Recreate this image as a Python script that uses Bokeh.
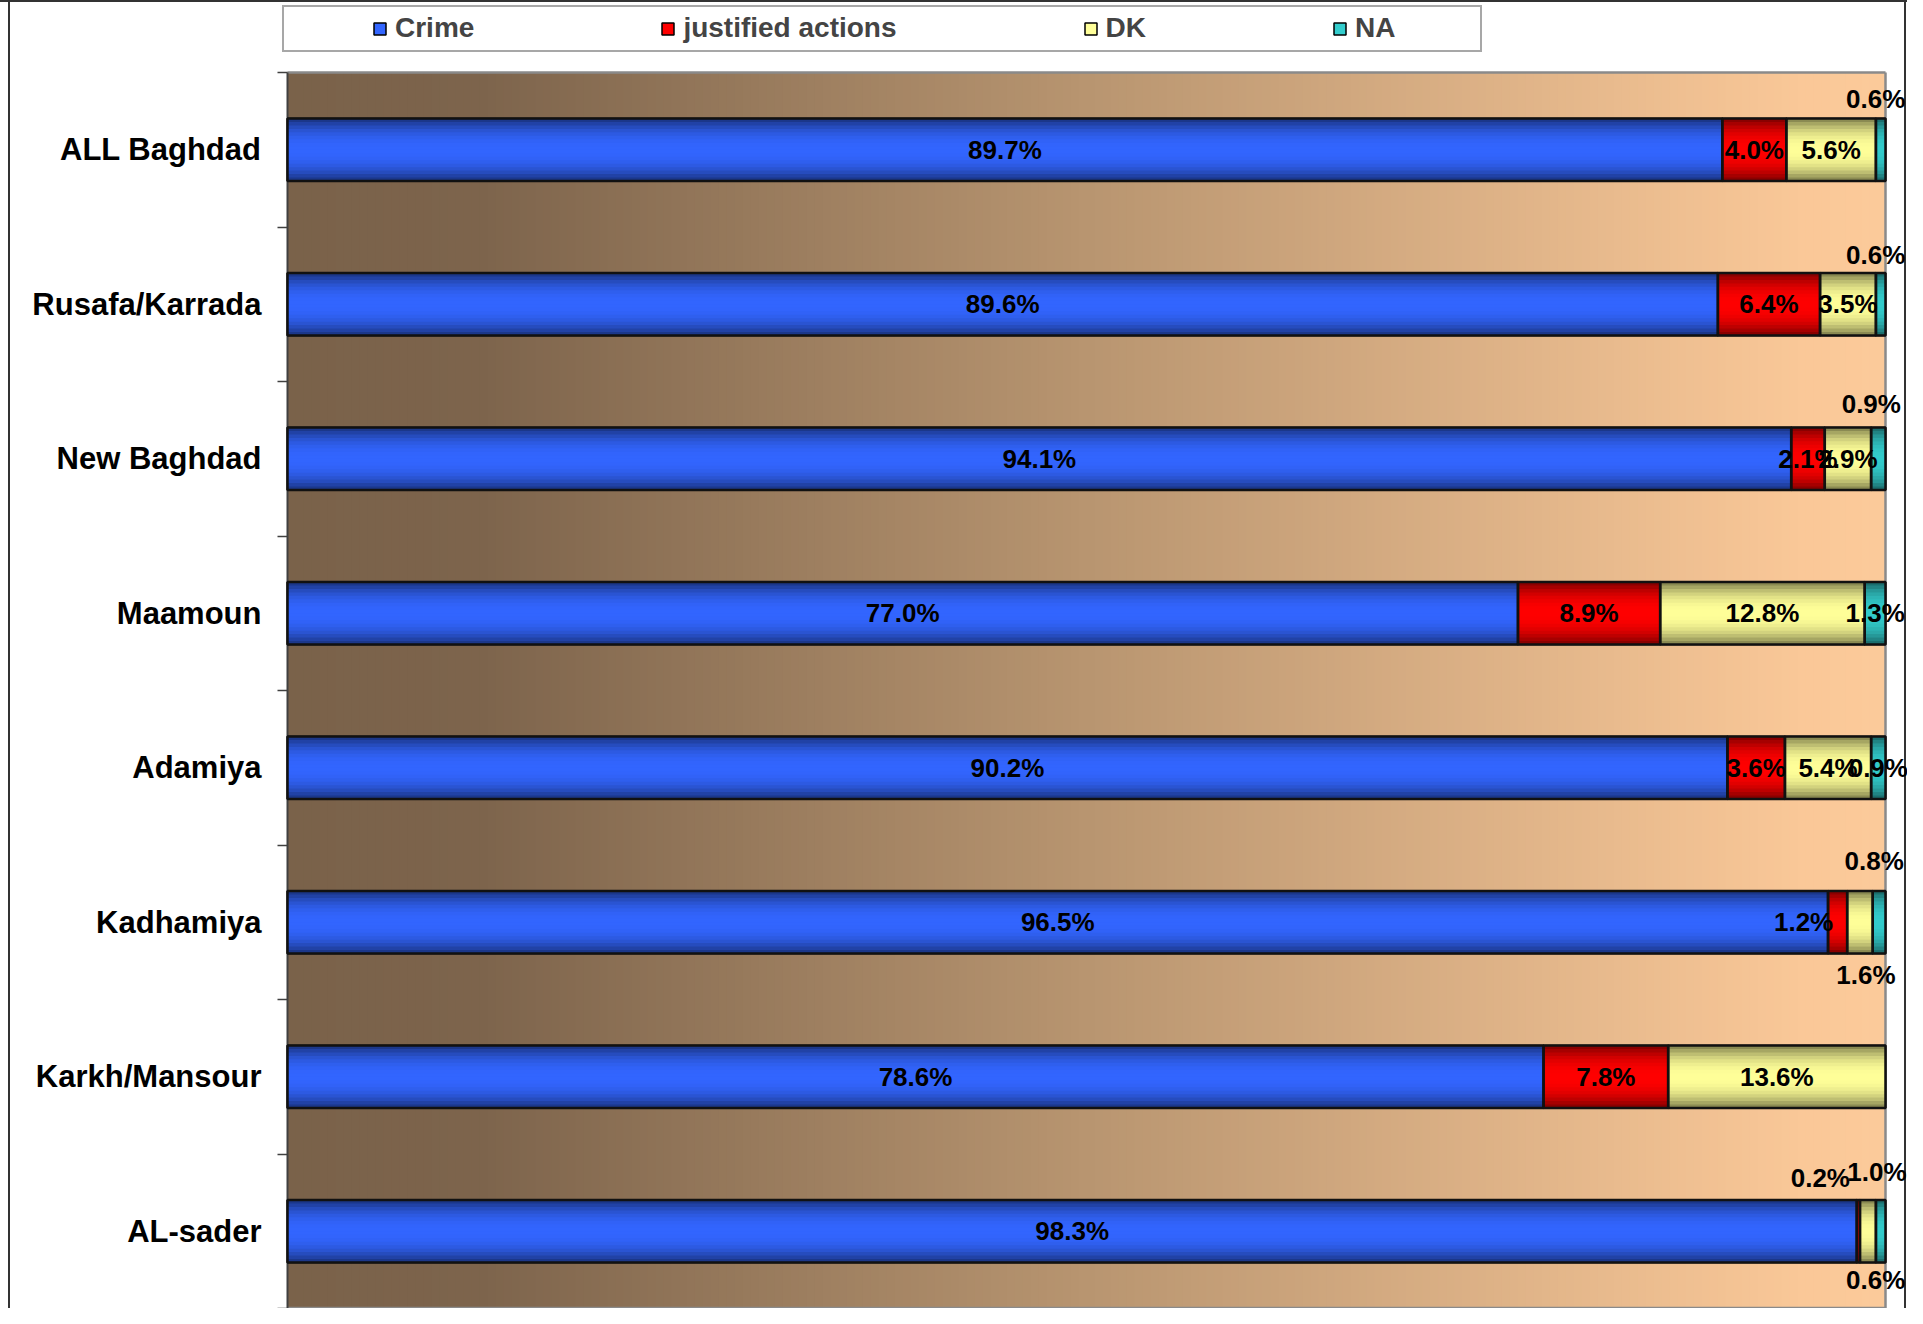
import numpy as np
from bokeh.plotting import figure
from bokeh.models import (ColumnDataSource, Range1d, FixedTicker, Legend, LegendItem)
from bokeh.core.properties import value
from bokeh.embed import file_html
from bokeh.resources import INLINE

# ---------------- data ----------------
categories = ["ALL Baghdad", "Rusafa/Karrada", "New Baghdad", "Maamoun",
              "Adamiya", "Kadhamiya", "Karkh/Mansour", "AL-sader"]
series = ["Crime", "justified actions", "DK", "NA"]
crime = [89.7, 89.6, 94.1, 77.0, 90.2, 96.5, 78.6, 98.3]
justified = [4.0, 6.4, 2.1, 8.9, 3.6, 1.2, 7.8, 0.2]
dk = [5.6, 3.5, 2.9, 12.8, 5.4, 1.6, 13.6, 1.0]
na = [0.6, 0.6, 0.9, 1.3, 0.9, 0.8, 0.0, 0.6]

# ---------------- styling ----------------
colors = ["#3366FF", "#FF0000", "#FFFF99", "#33CCCC"]
FONT = "Liberation Sans"
# pixel nudges for labels of crowded small segments: (row, series) -> (dx, dy)
label_nudge = {(0, 3): (-5, -51), (1, 3): (-5, -49), (2, 3): (-7, -55),
               (5, 1): (-34, 0), (5, 2): (6, 53), (5, 3): (-5, -61),
               (7, 1): (-38, -53), (7, 2): (9, -59), (7, 3): (-5, 49)}

values = [crime, justified, dk, na]
n = len(categories)
bar_h = 0.405

# plot area spans x 0..100 and y 0..n; the frame also holds the room for the
# legend above and the overhanging labels on the right
W, H = 1907, 1308
area_l, area_r, area_t, area_b = 287, 1885, 72, 1308
frame_l = 281
pxu = (area_r - area_l) / 100.0
band = (area_b - area_t) / n
x0 = -(area_l - frame_l) / pxu
x1 = 100 + (W - area_r) / pxu
y1 = n + area_t / band

p = figure(width=W, height=H, x_range=Range1d(x0, x1), y_range=Range1d(0, y1),
           output_backend="svg", toolbar_location=None, x_axis_location=None,
           min_border_left=frame_l, min_border_right=0, min_border_top=0,
           min_border_bottom=0, border_fill_color=None, background_fill_color=None)
p.grid.visible = False
p.outline_line_color = None
p.styles = {
    "background-image": (
        "linear-gradient(to right, transparent 8px, #333333 8px, #333333 10px, transparent 10px, "
        "transparent 1904px, #333333 1904px, #333333 1906px, transparent 1906px), "
        "linear-gradient(to bottom, #333333 0px, #333333 2px, transparent 2px)"),
    "background-color": "white",
}

# ---------------- background gradient ----------------
nbg = 200
edges = np.linspace(0, 100, nbg + 1)
stops_x = [0, 12, 50, 95, 100]
stops_c = np.array([(122, 98, 74), (125, 100, 76), (184, 149, 112),
                    (250, 200, 152), (251, 202, 154)], dtype=float)
mids = (edges[:-1] + edges[1:]) / 2
bg_cols = []
for m in mids:
    rgb = [np.interp(m, stops_x, stops_c[:, k]) for k in range(3)]
    bg_cols.append("#%02x%02x%02x" % tuple(int(round(c)) for c in rgb))
p.quad(left=edges[:-1], right=np.minimum(edges[1:] + 0.25, 100), bottom=0, top=n,
       fill_color=bg_cols, line_color=None)

# plot-area border: grey top/right/bottom, dark left axis line
p.multi_line(xs=[[0, 100], [100, 100], [0, 100]], ys=[[n, n], [0, n], [0.003, 0.003]],
             line_color="#8a8a8a", line_width=2.5)
p.line(x=[0, 0], y=[0, n], line_color="#404040", line_width=2)


def shade(hexc, f):
    h = hexc.lstrip("#")
    rgb = [int(h[i:i + 2], 16) for i in (0, 2, 4)]
    return "#%02x%02x%02x" % tuple(int(max(0, min(255, c * f))) for c in rgb)


# ---------------- bars ----------------
totals = [sum(v[i] for v in values) for i in range(n)]
base = {s: dict(left=[], right=[], bottom=[], top=[]) for s in range(4)}
strips = dict(left=[], right=[], bottom=[], top=[], color=[])
lab = dict(x=[], y=[], text=[], dx=[], dy=[])
NS = 18
for i in range(n):
    yc = n - 0.5 - i
    yb, yt = yc - bar_h / 2, yc + bar_h / 2
    cum = 0.0
    for s in range(4):
        v = values[s][i]
        w = v / totals[i] * 100.0
        l, r = cum, cum + w
        cum = r
        if v <= 0:
            continue
        base[s]["left"].append(l); base[s]["right"].append(r)
        base[s]["bottom"].append(yb); base[s]["top"].append(yt)
        dh = (yt - yb) / NS
        for k in range(NS):
            t = ((k + 0.5) / NS) * 2 - 1
            f = 0.48 + 0.52 * (1 - abs(t) ** 2.2)
            strips["left"].append(l); strips["right"].append(r)
            strips["bottom"].append(yb + k * dh)
            strips["top"].append(min(yt, yb + (k + 1) * dh + dh * 0.35))
            strips["color"].append(shade(colors[s], f))
        dx, dy = label_nudge.get((i, s), (0, 0))
        lab["x"].append((l + r) / 2); lab["y"].append(yc)
        lab["text"].append(f"{v:.1f}%"); lab["dx"].append(dx); lab["dy"].append(dy)

base_r = []
for s in range(4):
    r = p.quad(source=ColumnDataSource(base[s]), left="left", right="right",
               bottom="bottom", top="top", fill_color=colors[s],
               line_color="#000000", line_width=1.5)
    base_r.append(r)

p.quad(source=ColumnDataSource(strips), left="left", right="right", bottom="bottom",
       top="top", fill_color="color", line_color=None)

for s in range(4):
    p.quad(source=ColumnDataSource(base[s]), left="left", right="right",
           bottom="bottom", top="top", fill_color=None,
           line_color="#111111", line_width=2.5)

p.text(source=ColumnDataSource(lab), x="x", y="y", text="text", x_offset="dx",
       y_offset="dy", text_align="center", text_baseline="middle",
       text_font=value(FONT), text_font_style="bold", text_font_size="26px",
       text_color="#000000")

# ---------------- axis ----------------
centers = [n - 0.5 - i for i in range(n)]
yax = p.yaxis[0]
yax.ticker = FixedTicker(ticks=centers, minor_ticks=list(range(n + 1)))
yax.major_label_overrides = {c: name for c, name in zip(centers, categories)}
yax.major_tick_line_color = None
yax.major_tick_out = 0
yax.major_tick_in = 0
yax.minor_tick_out = 4
yax.minor_tick_in = 6
yax.minor_tick_line_color = "#404040"
yax.minor_tick_line_width = 1.5
yax.axis_line_color = None
yax.major_label_standoff = 16
yax.major_label_text_font = FONT
yax.major_label_text_font_style = "bold"
yax.major_label_text_font_size = "31px"
yax.major_label_text_color = "#000000"

# ---------------- legend box + legend ----------------
dummy = p.quad(left=[0], right=[0], bottom=[0], top=[0], fill_alpha=0, line_alpha=0)

lbox = Legend(items=[LegendItem(label=" ", renderers=[dummy])],
              location=(1, 1256), padding=0, margin=0, glyph_width=1,
              glyph_height=43, label_standoff=0, label_width=1195,
              label_text_font_size="1px", border_line_color="#505050",
              border_line_width=2, background_fill_color="white",
              background_fill_alpha=1)
p.add_layout(lbox)

legend = Legend(items=[LegendItem(label=series[s], renderers=[base_r[s]]) for s in range(4)],
                orientation="horizontal", location=(91, 1264), padding=0, margin=0,
                spacing=186, glyph_width=15, glyph_height=15, label_standoff=8,
                label_text_font=FONT, label_text_font_style="bold",
                label_text_font_size="28px", label_height=26,
                border_line_color=None, background_fill_alpha=0)
p.add_layout(legend)

open("out.html", "w").write(file_html(p, INLINE))
